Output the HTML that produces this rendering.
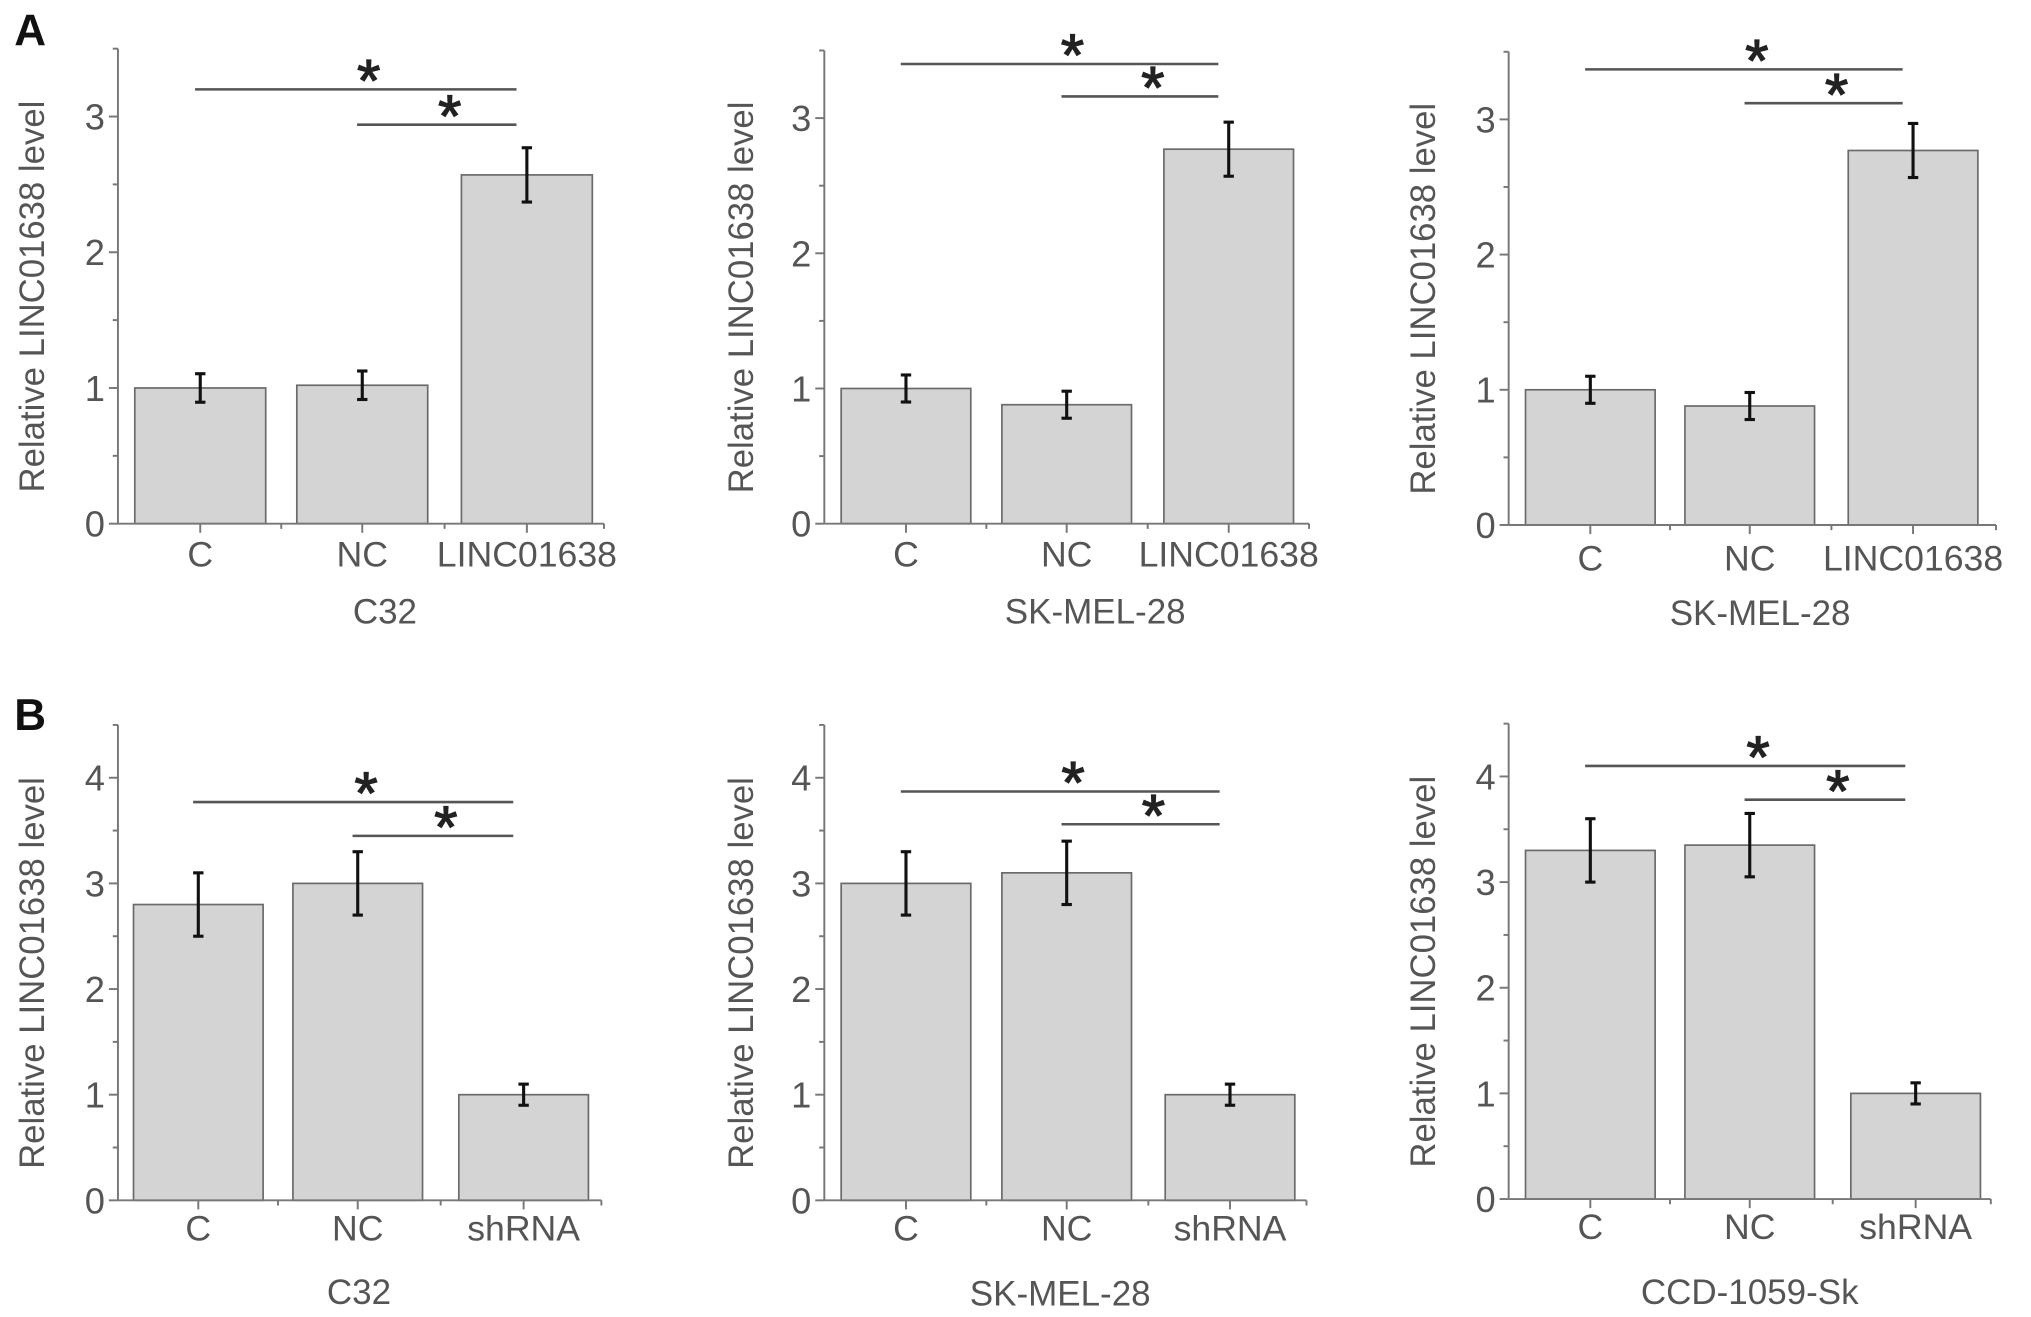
<!DOCTYPE html>
<html><head><meta charset="utf-8"><style>
html,body{margin:0;padding:0;background:#fff;}
svg{display:block;}
text{font-family:"Liberation Sans",sans-serif;}
</style></head><body>
<svg id="fig" width="2031" height="1317" viewBox="0 0 1567 1016" preserveAspectRatio="none" xmlns="http://www.w3.org/2000/svg">
<rect width="1567" height="1016" fill="#fff"/>
<text x="11" y="35" font-size="34" font-weight="bold" fill="#111">A</text>
<text x="11" y="563" font-size="34" font-weight="bold" fill="#111">B</text>
</svg>
<script>
// ---- data ----
const catsA = ["C", "NC", "LINC01638"];
const catsB = ["C", "NC", "shRNA"];
const titles = ["C32", "SK-MEL-28", "SK-MEL-28", "C32", "SK-MEL-28", "CCD-1059-Sk"];
const valsA1 = [1.0, 1.02, 2.57];
const errA1 = [0.105, 0.105, 0.2];
const valsA2 = [1.0, 0.88, 2.77];
const errA2 = [0.1, 0.1, 0.2];
const valsA3 = [1.0, 0.88, 2.77];
const errA3 = [0.1, 0.1, 0.2];
const valsB1 = [2.8, 3.0, 1.0];
const errB1 = [0.3, 0.3, 0.1];
const valsB2 = [3.0, 3.1, 1.0];
const errB2 = [0.3, 0.3, 0.1];
const valsB3 = [3.3, 3.35, 1.0];
const errB3 = [0.3, 0.3, 0.1];
const sigA1 = [3.20, 2.94];
const sigA2 = [3.40, 3.16];
const sigA3 = [3.37, 3.12];
const sigB1 = [3.77, 3.45];
const sigB2 = [3.87, 3.56];
const sigB3 = [4.10, 3.78];
const ticksA = [0, 1, 2, 3];
const ticksB = [0, 1, 2, 3, 4];

// ---- layout ----
const panels = [
 {ax:91, zero:404, unit:104.7, top:3.5, bars:[104,229,356], bw:101, xend:466, cats:catsA, vals:valsA1, err:errA1, sig:sigA1, ticks:ticksA, title:titles[0], tx:297, ty:480, catY:436, yt:24},
 {ax:636, zero:404, unit:104.3, top:3.5, bars:[649,773,898], bw:100, xend:1010, cats:catsA, vals:valsA2, err:errA2, sig:sigA2, ticks:ticksA, title:titles[1], tx:845, ty:480, catY:436, yt:571},
 {ax:1164, zero:405, unit:104.3, top:3.5, bars:[1177,1300,1426], bw:100, xend:1540, cats:catsA, vals:valsA3, err:errA3, sig:sigA3, ticks:ticksA, title:titles[2], tx:1358, ty:481, catY:439, yt:1097},
 {ax:91, zero:926, unit:81.5, top:4.5, bars:[103,226,354], bw:100, xend:464, cats:catsB, vals:valsB1, err:errB1, sig:sigB1, ticks:ticksB, title:titles[3], tx:277, ty:1005, catY:956, yt:24},
 {ax:636, zero:926, unit:81.5, top:4.5, bars:[649,773,899], bw:100, xend:1008, cats:catsB, vals:valsB2, err:errB2, sig:sigB2, ticks:ticksB, title:titles[4], tx:818, ty:1006, catY:956, yt:571},
 {ax:1164, zero:925, unit:81.5, top:4.5, bars:[1177,1300,1428], bw:100, xend:1536, cats:catsB, vals:valsB3, err:errB3, sig:sigB3, ticks:ticksB, title:titles[5], tx:1350, ty:1005, catY:955, yt:1097}
];
const NS = "http://www.w3.org/2000/svg";
const svg = document.getElementById("fig");
function mk(tag, attrs, parent) {
  const e = document.createElementNS(NS, tag);
  for (const k in attrs) e.setAttribute(k, attrs[k]);
  parent.appendChild(e);
  return e;
}
panels.forEach((p, pi) => {
  const g = mk("g", {}, svg);
  
  
  const y = v => p.zero - v * p.unit;
  const cx = i => p.bars[i] + p.bw / 2;
  p.vals.forEach((v, i) => {
    const r = mk("rect", {x:p.bars[i], y:y(v), width:p.bw, height:p.zero - y(v), fill:"#d4d4d4", stroke:"#6a6a6a", "stroke-width":1.3}, g);
    
    
  });
  p.vals.forEach((v, i) => {
    const eg = mk("g", {stroke:"#111", "stroke-width":2.4}, g);
    
    
    const x = cx(i), y1 = y(v + p.err[i]), y2 = y(v - p.err[i]);
    mk("line", {x1:x, x2:x, y1:y1, y2:y2}, eg);
    mk("line", {x1:x - 4, x2:x + 4, y1:y1, y2:y1}, eg);
    mk("line", {x1:x - 4, x2:x + 4, y1:y2, y2:y2}, eg);
  });
  const yAxis = mk("g", {stroke:"#777", "stroke-width":1.5}, g);
  
  
  mk("line", {x1:p.ax, x2:p.ax, y1:y(p.top), y2:p.zero}, yAxis);
  for (let t = 0; t <= p.top + 1e-9; t += 0.5) {
    const major = Math.abs(t - Math.round(t)) < 1e-9;
    mk("line", {x1:p.ax - (major ? 7 : 4), x2:p.ax, y1:y(t), y2:y(t)}, yAxis);
  }
  p.ticks.forEach(t => {
    const tl = mk("text", {x:p.ax - 10, y:y(t) + 10, "font-size":28, fill:"#555", "text-anchor":"end"}, g);
    tl.textContent = t;
    
    
  });
  const xAxis = mk("g", {stroke:"#777", "stroke-width":1.5}, g);
  
  
  mk("line", {x1:p.ax, x2:p.xend, y1:p.zero, y2:p.zero}, xAxis);
  p.cats.forEach((c, i) => {
    mk("line", {x1:cx(i), x2:cx(i), y1:p.zero, y2:p.zero + 7}, xAxis);
    if (i > 0) {
      const mx = (p.bars[i - 1] + p.bw + p.bars[i]) / 2;
      mk("line", {x1:mx, x2:mx, y1:p.zero, y2:p.zero + 4}, xAxis);
    }
    const cl = mk("text", {x:cx(i), y:p.catY + 1, "font-size":27.5, fill:"#555", "text-anchor":"middle"}, g);
    cl.textContent = c;
    
    
  });
  mk("line", {x1:p.xend, x2:p.xend, y1:p.zero, y2:p.zero + 4}, xAxis);
  const xt = mk("text", {x:p.tx, y:p.ty + 1, "font-size":27, fill:"#555", "text-anchor":"middle"}, g);
  xt.textContent = p.title;
  
  
  const ym = (y(p.top) + p.zero) / 2 + 8;
  const yt = mk("text", {x:0, y:0, "font-size":26.8, fill:"#555", "text-anchor":"middle", transform:"translate(" + (p.yt + 10) + "," + ym + ") rotate(-90)"}, g);
  yt.textContent = "Relative LINC01638 level";
  
  
  p.sig.forEach((s, k) => {
    const sg = mk("g", {}, g);
    
    
    const x1 = cx(k) - 4, x2 = cx(2) - 8, ly = y(s);
    mk("line", {x1:x1, x2:x2, y1:ly, y2:ly, stroke:"#555", "stroke-width":2}, sg);
    const st = mk("text", {x:(x1 + x2) / 2 + 10, y:ly + 9, "font-size":46, fill:"#222", stroke:"#222", "stroke-width":1, "text-anchor":"middle"}, sg);
    st.textContent = "*";
  });
});
</script>
</body></html>
